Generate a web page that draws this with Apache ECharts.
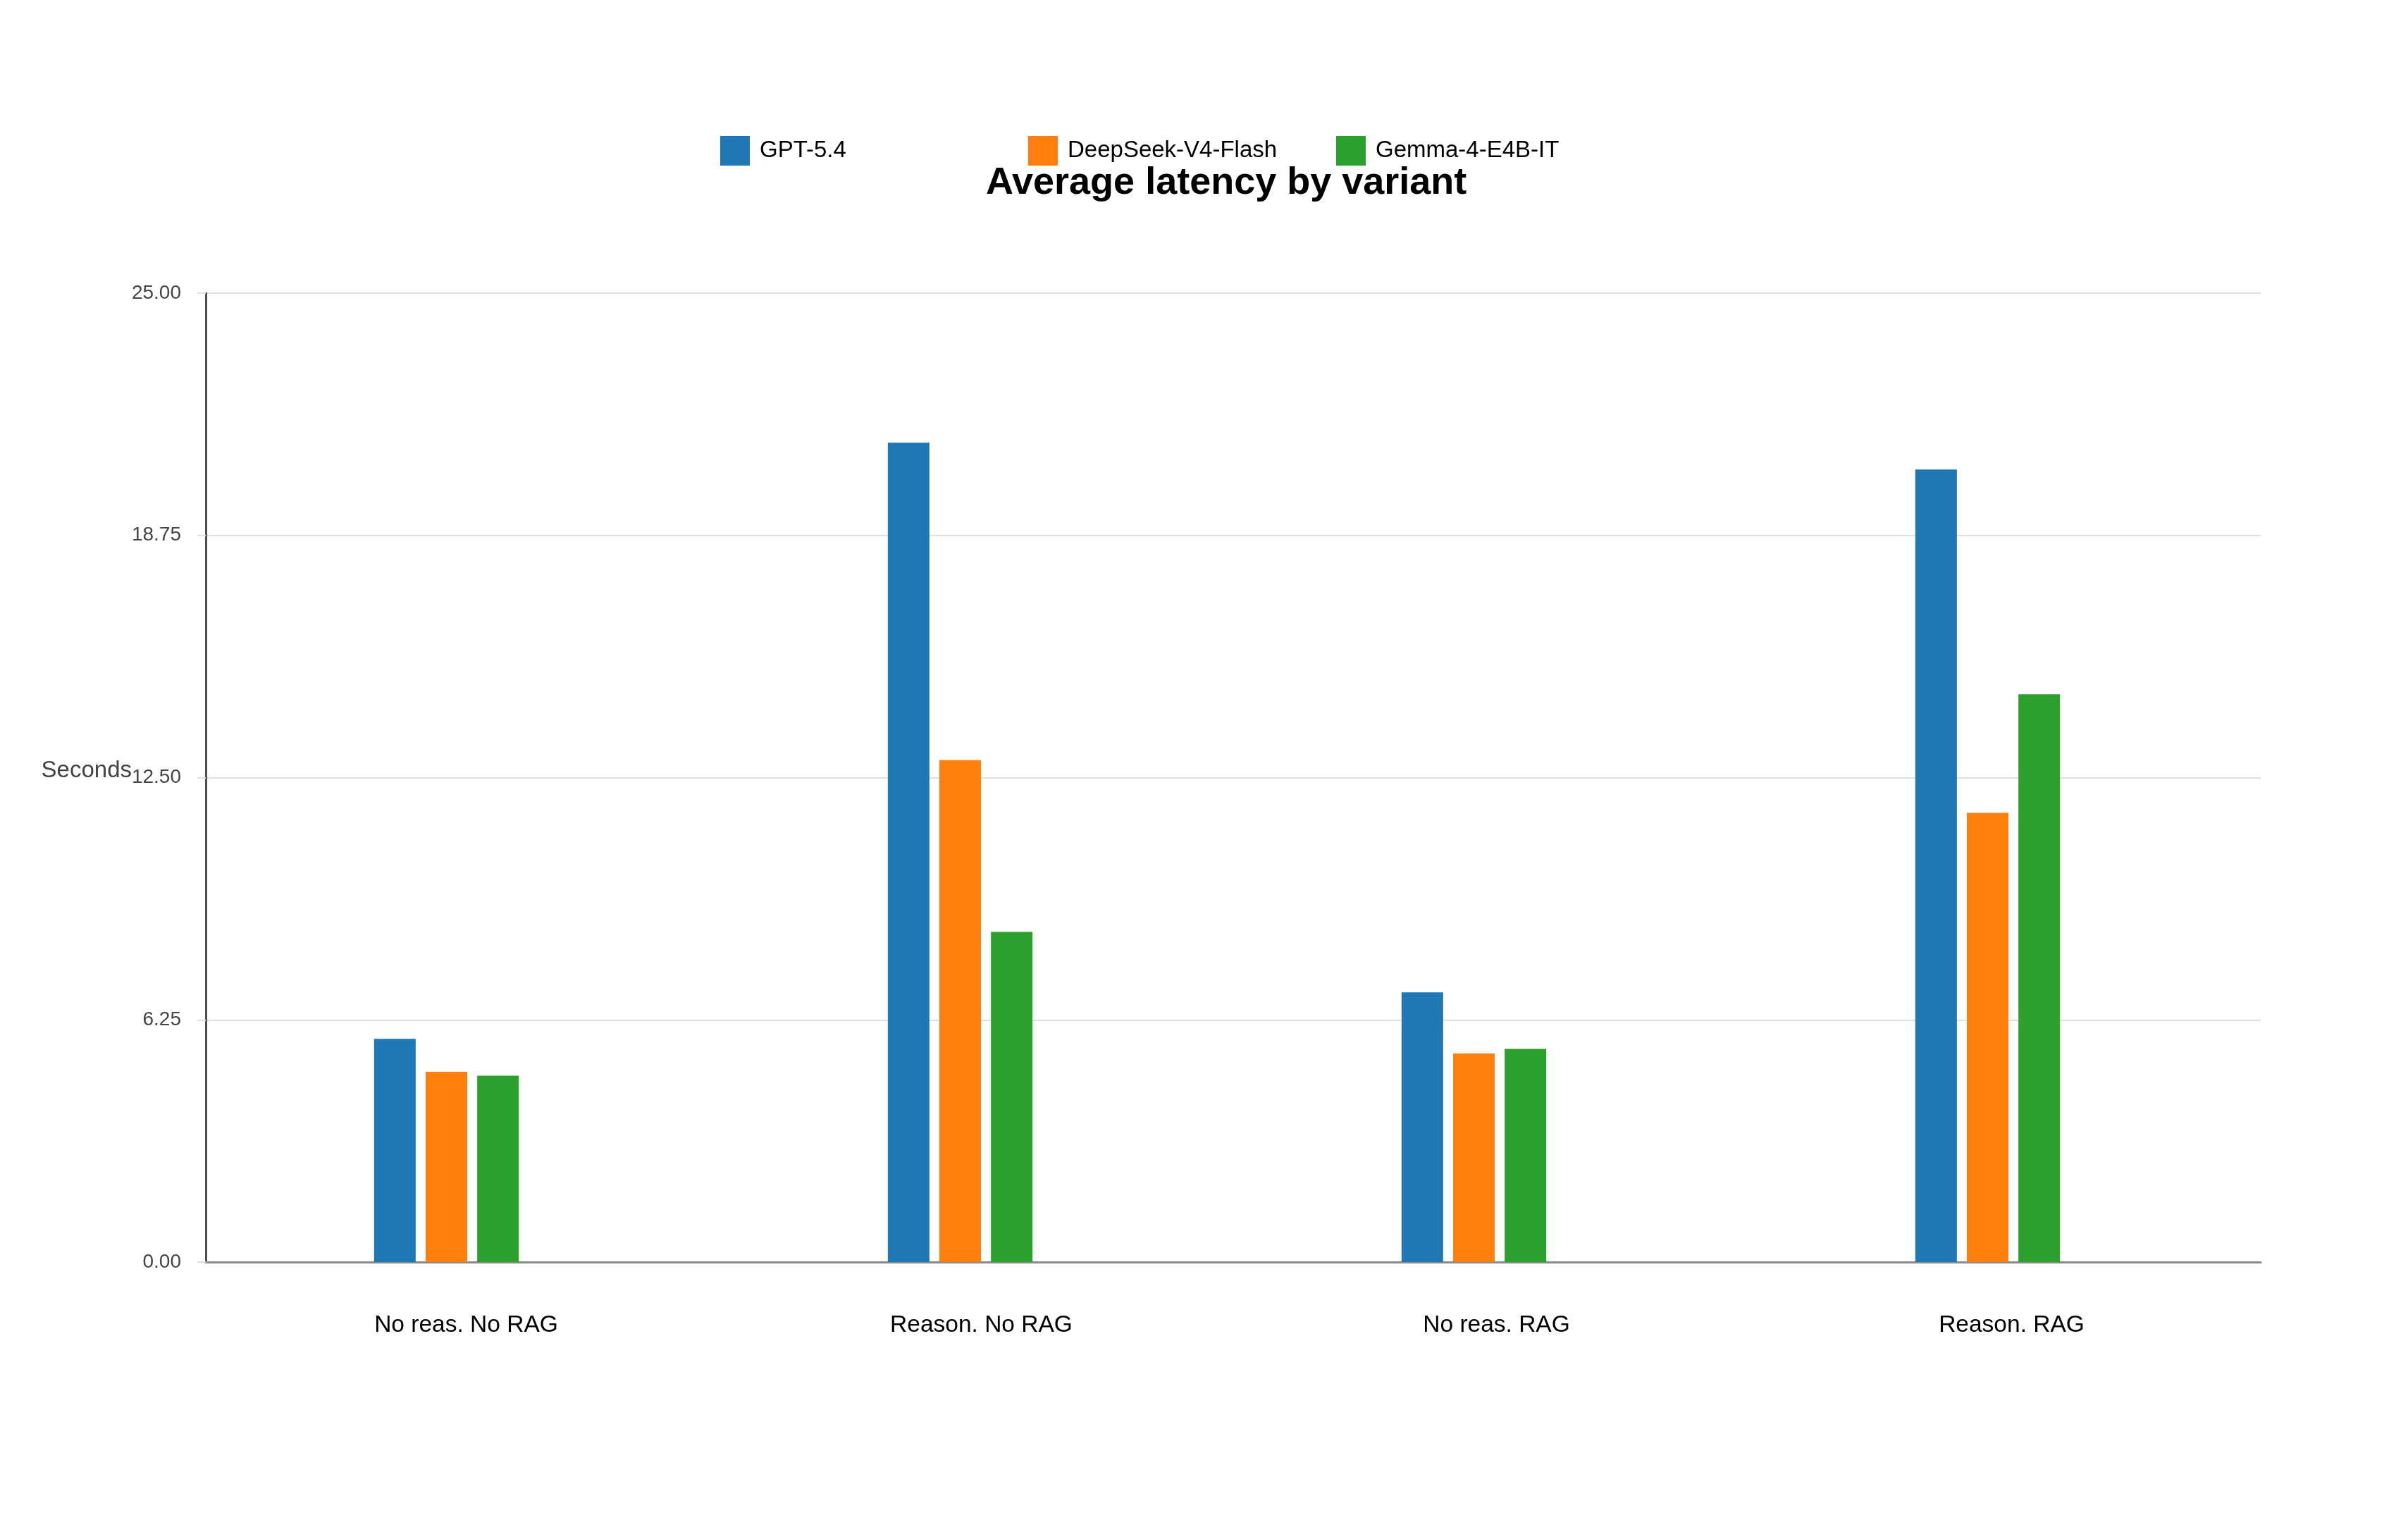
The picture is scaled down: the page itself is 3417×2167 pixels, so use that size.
<!DOCTYPE html>
<html>
<head>
<meta charset="utf-8">
<title>Average latency by variant</title>
<script src="https://cdn.jsdelivr.net/npm/echarts/dist/echarts.min.js"></script>
<style>
    html, body { margin: 0; padding: 0; background: #fff; }
    #chart { width: 3417px; height: 2167px; }
</style>
</head>
<body>
<div id="chart"></div>
<script>
    // data
    const categories = ['No reas. No RAG', 'Reason. No RAG', 'No reas. RAG', 'Reason. RAG'];
    const seriesNames = ['GPT-5.4', 'DeepSeek-V4-Flash', 'Gemma-4-E4B-IT'];
    const gpt = [5.76, 21.14, 6.96, 20.45];
    const deepseek = [4.91, 12.95, 5.38, 11.59];
    const gemma = [4.81, 8.52, 5.50, 14.65];
    const yTicks = [0, 6.25, 12.5, 18.75, 25];

    const colors = ['#1f77b4', '#ff7f0e', '#2ca02c'];
    const font = 'Liberation Sans, Arial, Helvetica, sans-serif';
    const legendLeft = [1017, 1454, 1891];

    const chart = echarts.init(document.getElementById('chart'));

    const option = {
        animation: false,
        backgroundColor: '#fff',
        color: colors,
        textStyle: { fontFamily: font },
        title: {
            text: 'Average latency by variant',
            left: 1394,
            top: 228,
            textStyle: { fontSize: 54, fontWeight: 'bold', color: '#000', fontFamily: font }
        },
        // one legend per item so the items keep the fixed spacing of the picture
        legend: seriesNames.map((name, i) => ({
            data: [name],
            left: legendLeft[i],
            top: 188,
            icon: 'rect',
            itemWidth: 42,
            itemHeight: 42,
            selectedMode: false,
            textStyle: { fontSize: 33, color: '#000', fontFamily: font, padding: [0, 0, 0, 9] }
        })),
        grid: [
            // visible axes
            { left: 292, right: 209, top: 416, bottom: 376 },
            // bars sit slightly left of the category centres in the picture
            { left: 269, right: 232, top: 416, bottom: 376 },
            // category labels sit slightly right of them
            { left: 296, right: 197, top: 416, bottom: 376 }
        ],
        xAxis: [
            {
                type: 'category',
                gridIndex: 0,
                data: categories,
                axisLine: { lineStyle: { color: '#8a8a8a', width: 3 } },
                axisTick: { show: false },
                axisLabel: { show: false }
            },
            {
                type: 'category',
                gridIndex: 1,
                data: categories,
                show: false
            },
            {
                type: 'category',
                gridIndex: 2,
                data: categories,
                axisLine: { show: false },
                axisTick: { show: false },
                axisLabel: { color: '#000', fontSize: 33.5, margin: 73, fontFamily: font }
            }
        ],
        yAxis: [
            {
                type: 'value',
                gridIndex: 0,
                min: yTicks[0],
                max: yTicks[yTicks.length - 1],
                interval: yTicks[1] - yTicks[0],
                name: 'Seconds',
                nameLocation: 'middle',
                nameRotate: 0,
                nameGap: 105,
                nameMoveOverlap: false,
                nameTextStyle: { color: '#444', fontSize: 33, fontFamily: font, verticalAlign: 'bottom', lineHeight: 20 },
                axisLine: { show: true, lineStyle: { color: '#4d4d4d', width: 3 } },
                axisTick: { show: true, length: 12, lineStyle: { color: '#ddd', width: 2 } },
                axisLabel: {
                    color: '#444',
                    fontSize: 28,
                    margin: 35,
                    fontFamily: font,
                    formatter: v => v.toFixed(2)
                },
                splitLine: { lineStyle: { color: '#e0e0e0', width: 2 } }
            },
            {
                type: 'value',
                gridIndex: 1,
                min: yTicks[0],
                max: yTicks[yTicks.length - 1],
                interval: yTicks[1] - yTicks[0],
                show: false,
                splitLine: { show: false }
            },
            {
                type: 'value',
                gridIndex: 2,
                min: yTicks[0],
                max: yTicks[yTicks.length - 1],
                interval: yTicks[1] - yTicks[0],
                show: false,
                splitLine: { show: false }
            }
        ],
        series: [
            { name: seriesNames[0], type: 'bar', xAxisIndex: 1, yAxisIndex: 1, data: gpt, barWidth: 59, barGap: '24%' },
            { name: seriesNames[1], type: 'bar', xAxisIndex: 1, yAxisIndex: 1, data: deepseek, barWidth: 59, barGap: '24%' },
            { name: seriesNames[2], type: 'bar', xAxisIndex: 1, yAxisIndex: 1, data: gemma, barWidth: 59, barGap: '24%' }
        ]
    };

    chart.setOption(option);
</script>
</body>
</html>
